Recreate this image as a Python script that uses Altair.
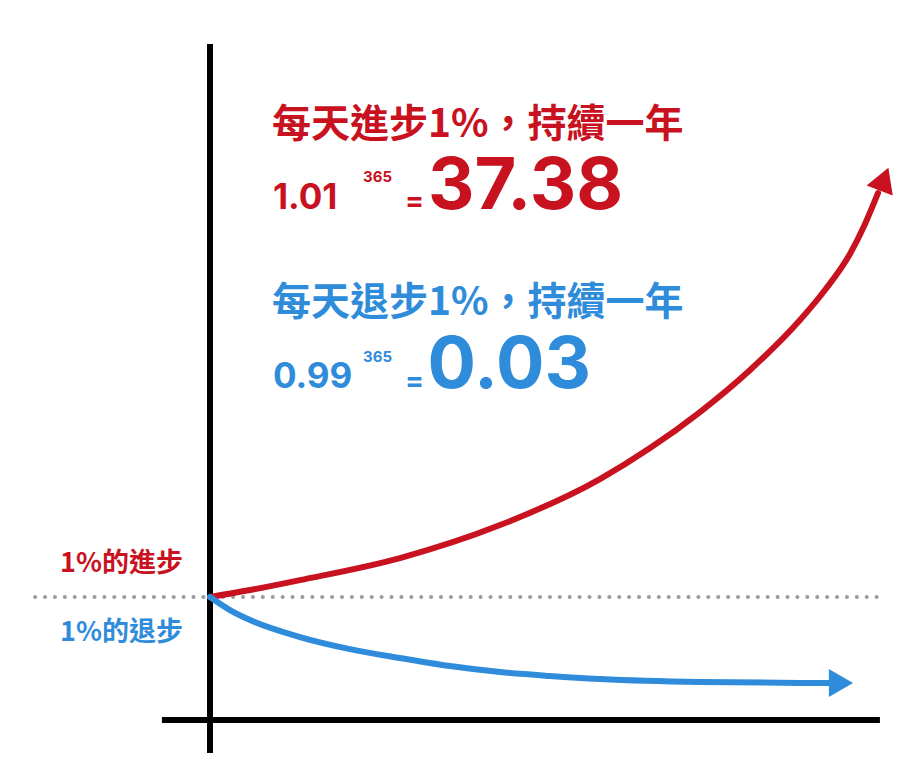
import altair as alt
import pandas as pd

# ---- data ----
# x: days of the year, y: level (horizontal axis = 0, starting level = 1)
up_days = [0, 21.5, 48.3, 102.0, 155.7, 209.3, 236.2, 263.0, 289.9, 316.7, 330.1, 343.5, 351.6, 358.6]
up_level = [1.0, 1.057, 1.138, 1.317, 1.585, 1.959, 2.211, 2.504, 2.846, 3.252, 3.496, 3.789, 4.033, 4.285]

down_days = [0, 10.7, 21.5, 48.3, 75.1, 102, 128.8, 155.7, 182.5, 209.3, 263, 332.8]
down_level = [1.0, 0.894, 0.813, 0.675, 0.577, 0.504, 0.439, 0.390, 0.358, 0.333, 0.309, 0.301]

RED = "#c8121f"
BLUE = "#2f8cda"
GREY = "#9c9c9c"
CJK = "Noto Sans CJK TC"
NUM = "Inter"

W, H = 902, 745
xs = alt.Scale(domain=[-108.43, 375.74], nice=False, zero=False)
ys = alt.Scale(domain=[-0.268, 5.789], nice=False, zero=False)


def X(f="x"):
    return alt.X(f"{f}:Q", scale=xs, axis=None)


def Y(f="y"):
    return alt.Y(f"{f}:Q", scale=ys, axis=None)


up_df = pd.DataFrame({"x": up_days, "y": up_level})
down_df = pd.DataFrame({"x": down_days, "y": down_level})

layers = []

# dotted baseline at level 1
base_df = pd.DataFrame({"x": [-93.9], "x2": [362.3], "y": [1.0]})
layers.append(
    alt.Chart(base_df).mark_rule(color=GREY, strokeWidth=4, strokeCap="round", strokeDash=[0.1, 9.8])
    .encode(x=X(), x2="x2:Q", y=Y())
)

# axes
vax = pd.DataFrame({"x": [0.0], "y": [5.496], "y2": [-0.268]})
hax = pd.DataFrame({"x": [-25.8], "x2": [359.6], "y": [0.0]})
layers.append(alt.Chart(vax).mark_rule(color="#000000", strokeWidth=6).encode(x=X(), y=Y(), y2="y2:Q"))
layers.append(alt.Chart(hax).mark_rule(color="#000000", strokeWidth=6).encode(x=X(), x2="x2:Q", y=Y()))

# curves
layers.append(
    alt.Chart(up_df).mark_line(color=RED, strokeWidth=6, interpolate="monotone", strokeCap="round")
    .encode(x=X(), y=Y(), order="x:Q")
)
layers.append(
    alt.Chart(down_df).mark_line(color=BLUE, strokeWidth=6, interpolate="monotone", strokeCap="round")
    .encode(x=X(), y=Y(), order="x:Q")
)

# arrow heads
layers.append(
    alt.Chart(pd.DataFrame({"x": [361.8], "y": [4.398]}))
    .mark_point(shape="triangle-up", angle=21, size=784, filled=True, opacity=1, color=RED, strokeWidth=0)
    .encode(x=X(), y=Y())
)
layers.append(
    alt.Chart(pd.DataFrame({"x": [338.7], "y": [0.301]}))
    .mark_point(shape="triangle-right", size=784, filled=True, opacity=1, color=BLUE, strokeWidth=0)
    .encode(x=X(), y=Y())
)

# annotations: (text, x, y, size, color, font, weight)
notes = [
    ("每天進步1%，持續一年", 33.3, 4.837, 39, RED, CJK, "bold"),
    ("1.01", 33.8, 4.248, 35, RED, NUM, "bold"),
    ("365", 82.1, 4.415, 15, RED, NUM, "bold"),
    ("=", 104.7, 4.211, 28, RED, NUM, "bold"),
    ("37.38", 117.0, 4.330, 72, RED, NUM, "bold"),
    ("每天退步1%，持續一年", 33.3, 3.390, 39, BLUE, CJK, "bold"),
    ("0.99", 33.8, 2.789, 35, BLUE, NUM, "bold"),
    ("365", 82.1, 2.951, 15, BLUE, NUM, "bold"),
    ("=", 104.7, 2.748, 28, BLUE, NUM, "bold"),
    ("0.03", 116.8, 2.878, 72, BLUE, NUM, "bold"),
    ("1%的進步", -80.5, 1.268, 27, RED, CJK, "bold"),
    ("1%的退步", -80.5, 0.711, 27, BLUE, CJK, "bold"),
]
for t, x, y, s, c, f, w in notes:
    layers.append(
        alt.Chart(pd.DataFrame({"t": [t], "x": [x], "y": [y]}))
        .mark_text(align="left", baseline="middle", fontSize=s, color=c, font=f, fontWeight=w)
        .encode(x=X(), y=Y(), text="t:N")
    )

chart = (
    alt.layer(*layers)
    .properties(width=W, height=H, padding=0, autosize=alt.AutoSizeParams(type="none"), background="#ffffff")
    .configure_view(stroke=None)
)

chart.save("out.html", embed_options={"renderer": "svg", "actions": False})
